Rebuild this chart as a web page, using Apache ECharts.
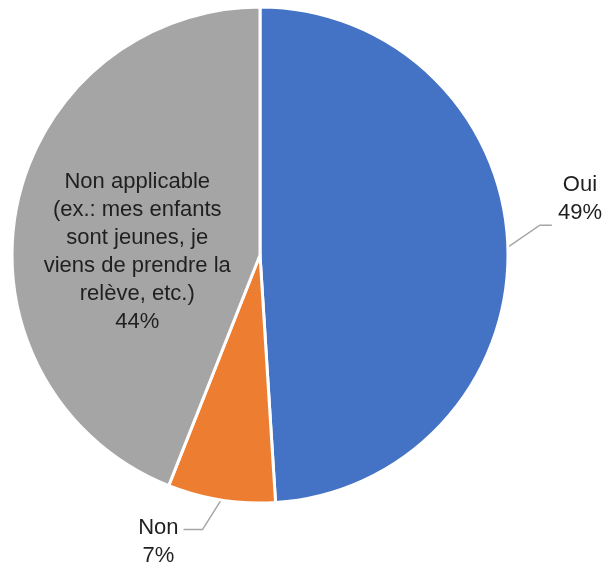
<!DOCTYPE html>
<html>
<head>
<meta charset="utf-8">
<script src="https://cdn.jsdelivr.net/npm/echarts@6/dist/echarts.min.js"></script>
<style>
  html, body { margin: 0; padding: 0; background: #ffffff; }
  #chart { width: 605px; height: 568px; }
</style>
</head>
<body>
<div id="chart"></div>
<script>
// categories and values
const categories = [
  'Oui',
  'Non',
  'Non applicable\n(ex.: mes enfants\nsont jeunes, je\nviens de prendre la\nrelève, etc.)'
];
const values = [49, 7, 44];
const colors = ['#4472C4', '#ED7D31', '#A5A5A5'];
const FONT = '"Liberation Sans", Arial, sans-serif';

const chart = echarts.init(document.getElementById('chart'));

const seriesData = categories.map(function (name, i) {
  const item = { name: name, value: values[i], itemStyle: { color: colors[i] } };
  if (i === 0) {
    item.labelLine = { length: 32, length2: 12 };
  }
  if (i === 1) {
    item.labelLine = { length: 30, length2: 33 };
  }
  if (i === 2) {
    item.label = {
      position: 'inside',
      formatter: '{b}\n{d}%',
      fontFamily: FONT,
      fontSize: 22,
      lineHeight: 28,
      color: '#1f1f1f',
      align: 'center',
      offset: [2, 21]
    };
  }
  return item;
});

const option = {
  backgroundColor: '#ffffff',
  animation: false,
  series: [
    {
      type: 'pie',
      center: [260, 255],
      radius: 248,
      startAngle: 90,
      clockwise: true,
      itemStyle: { borderColor: '#ffffff', borderWidth: 3 },
      label: {
        show: true,
        position: 'outside',
        overflow: 'none',
        fontFamily: FONT,
        formatter: '{t|{b}}\n{t|{d}%}',
        rich: {
          t: {
            fontFamily: FONT,
            fontSize: 22,
            lineHeight: 28,
            color: '#1f1f1f',
            align: 'center'
          }
        }
      },
      labelLine: {
        show: true,
        lineStyle: { color: '#A6A6A6', width: 1.5 }
      },
      labelLayout: function (params) {
        const pts = params.labelLinePoints;
        if (!pts) return {};
        if (params.dataIndex === 0) {
          // Excel-style leader: rises to the label, text sits above it
          const rise = 21;
          return {
            dx: 4,
            dy: -47,
            labelLinePoints: [
              pts[0],
              [pts[1][0], pts[1][1] - rise],
              [pts[2][0], pts[2][1] - rise]
            ]
          };
        }
        if (params.dataIndex === 1) {
          return {
            dy: 12,
            labelLinePoints: [pts[0], [pts[1][0] - 14, pts[1][1]], pts[2]]
          };
        }
        return {};
      },
      data: seriesData
    }
  ]
};

chart.setOption(option);
</script>
</body>
</html>
